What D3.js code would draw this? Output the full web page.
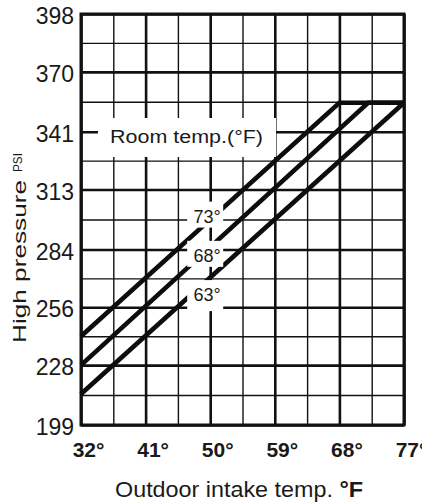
<!DOCTYPE html>
<html>
<head>
<meta charset="utf-8">
<script src="https://cdn.jsdelivr.net/npm/d3@7"></script>
<style>
  html, body { margin: 0; padding: 0; background: #fff; }
  svg { display: block; }
  text { font-family: "Liberation Sans", Arial, Helvetica, sans-serif; fill: #1a1a1a; }
</style>
</head>
<body>
<svg id="chart" width="422" height="504"></svg>
<script>
// ---- data ----
const xTicks = [32, 41, 50, 59, 68, 77];            // outdoor intake temp °F
const yTicks = [199, 228, 256, 284, 313, 341, 370, 398]; // high pressure PSI
const roomTemps = [73, 68, 63];                     // room temp °F
const line73 = [[32, 242], [68, 355], [77, 355]];
const line68 = [[32, 228], [72, 355], [77, 355]];
const line63 = [[32, 214], [77, 355]];
const seriesLines = [line73, line68, line63];
const labelTemp = 50;                // labels sit on the 50° grid line
const labelPsi = [297, 278, 259];    // label baseline levels

// ---- layout ----
const svg = d3.select("#chart");
const mLeft = 81, mTop = 14, mRight = 404, mBottom = 425;
const W = mRight - mLeft, H = mBottom - mTop;
const font = '"Liberation Sans", Arial, Helvetica, sans-serif';

const x = d3.scaleLinear().domain([xTicks[0], xTicks[xTicks.length - 1]]).range([0, W]);
const y = d3.scaleLinear().domain([yTicks[0], yTicks[yTicks.length - 1]]).range([H, 0]);

const xMinor = d3.pairs(xTicks).map(([a, b]) => (a + b) / 2);
const yMinor = d3.pairs(yTicks).map(([a, b]) => (a + b) / 2);

const g = svg.append("g").attr("transform", `translate(${mLeft},${mTop})`);

// minor grid
g.append("g").attr("class", "minor-y")
  .call(d3.axisLeft(y).tickValues(yMinor).tickSize(-W).tickFormat(""))
  .call(s => s.select(".domain").remove())
  .call(s => s.selectAll("line").attr("stroke", "#111").attr("stroke-width", 1.4));
g.append("g").attr("class", "minor-x").attr("transform", `translate(0,${H})`)
  .call(d3.axisBottom(x).tickValues(xMinor).tickSize(-H).tickFormat(""))
  .call(s => s.select(".domain").remove())
  .call(s => s.selectAll("line").attr("stroke", "#111").attr("stroke-width", 1.4));

// major grid + labels
g.append("g").attr("class", "major-y")
  .call(d3.axisLeft(y).tickValues(yTicks).tickSize(-W).tickPadding(7).tickFormat(d3.format("d")))
  .call(s => s.select(".domain").remove())
  .call(s => s.selectAll("line").attr("stroke", "#111").attr("stroke-width", 2.6))
  .call(s => s.selectAll("text").attr("font-size", 23).attr("font-family", font)
      .attr("fill", "#1a1a1a").attr("dy", "0.42em"));
g.append("g").attr("class", "major-x").attr("transform", `translate(0,${H})`)
  .call(d3.axisBottom(x).tickValues(xTicks).tickSize(-H).tickPadding(17).tickFormat(d => d + "°"))
  .call(s => s.select(".domain").remove())
  .call(s => s.selectAll("line").attr("stroke", "#111").attr("stroke-width", 2.6))
  .call(s => s.selectAll("text").attr("font-size", 21).attr("font-weight", "bold")
      .attr("font-family", font).attr("fill", "#1a1a1a").attr("x", 7));

// frame
g.append("rect").attr("x", 0).attr("y", 0).attr("width", W).attr("height", H)
  .attr("fill", "none").attr("stroke", "#111").attr("stroke-width", 3);

// "Room temp." label box (hides grid)
g.append("rect").attr("x", 98 - mLeft).attr("y", 118 - mTop).attr("width", 178).attr("height", 39)
  .attr("fill", "#fff");
g.append("text").attr("x", 110 - mLeft).attr("y", 143 - mTop)
  .attr("font-size", 18).attr("textLength", 153).attr("lengthAdjust", "spacingAndGlyphs")
  .text("Room temp.(°F)");

// series lines
const lineGen = d3.line().x(d => x(d[0])).y(d => y(d[1]));
g.selectAll("path.series").data(seriesLines).join("path")
  .attr("class", "series")
  .attr("d", lineGen)
  .attr("fill", "none").attr("stroke", "#0d0d0d").attr("stroke-width", 4.6)
  .attr("stroke-linejoin", "miter");

// value labels with white boxes
const lab = g.selectAll("g.vlab").data(roomTemps).join("g").attr("class", "vlab")
  .attr("transform", (d, i) => `translate(${x(labelTemp) - 3},${y(labelPsi[i])})`);
lab.append("rect")
  .attr("x", -20).attr("y", -21).attr("width", 36)
  .attr("height", (d, i) => i === roomTemps.length - 1 ? 31 : 26)
  .attr("fill", "#fff");
lab.append("text").attr("text-anchor", "middle").attr("font-size", 18)
  .text(d => d + "°");

// axis titles
svg.append("text").attr("transform", "translate(26,261.5) rotate(-90)")
  .attr("text-anchor", "middle").attr("font-size", 19)
  .attr("textLength", 163).attr("lengthAdjust", "spacingAndGlyphs")
  .text("High pressure");
svg.append("text").attr("transform", "translate(22,162.5) rotate(-90)")
  .attr("text-anchor", "middle").attr("font-size", 13)
  .attr("textLength", 19).attr("lengthAdjust", "spacingAndGlyphs")
  .text("PSI");
const xt = svg.append("text").attr("x", 115).attr("y", 497)
  .attr("font-size", 22).attr("textLength", 248).attr("lengthAdjust", "spacingAndGlyphs");
xt.append("tspan").text("Outdoor intake temp. ");
xt.append("tspan").attr("font-weight", "bold").text("°F");
</script>
</body>
</html>
